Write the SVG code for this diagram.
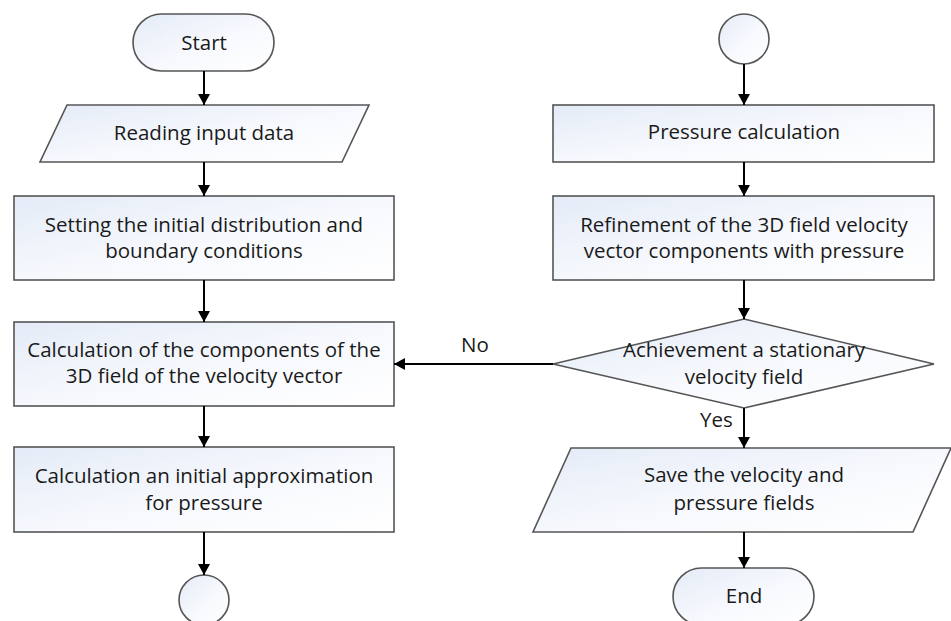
<svg xmlns="http://www.w3.org/2000/svg" width="951" height="621" viewBox="0 0 951 621">
  <defs>
    <linearGradient id="fillGrad" x1="0" y1="0" x2="1" y2="1">
      <stop offset="0" stop-color="#e4ebf7"/>
      <stop offset="0.55" stop-color="#f7f9fd"/>
      <stop offset="1" stop-color="#ffffff"/>
    </linearGradient>
    <marker id="arrow" markerWidth="12" markerHeight="12" refX="11" refY="6" orient="auto" markerUnits="userSpaceOnUse">
      <path d="M0,0 L11,6 L0,12 Z" fill="#000"/>
    </marker>
  </defs>
  <style>
    .shape { fill: url(#fillGrad); stroke: #555555; stroke-width: 1.6; }
    .label { font-family: "Open Sans", "Liberation Sans", Arial, sans-serif; font-size: 20.5px; fill: #1a1a1a; text-anchor: middle; }
    .edge { fill: none; stroke: #000; stroke-width: 2; marker-end: url(#arrow); }
    .tag { font-family: "Open Sans", "Liberation Sans", Arial, sans-serif; font-size: 20.5px; fill: #1a1a1a; }
  </style>
  <rect width="951" height="621" fill="#ffffff"/>

  <!-- left column -->
  <g id="start">
    <rect class="shape" x="133" y="14" width="141" height="57" rx="28.5"/>
    <text class="label" x="204" y="50">Start</text>
  </g>
  <g id="read-input">
    <polygon class="shape" points="67,105 369,105 342,162 40,162"/>
    <text class="label" x="204" y="140">Reading input data</text>
  </g>
  <g id="init-conditions">
    <rect class="shape" x="14" y="196" width="380" height="84"/>
    <text class="label" x="204" y="232">Setting the initial distribution and</text>
    <text class="label" x="204" y="258">boundary conditions</text>
  </g>
  <g id="velocity-components">
    <rect class="shape" x="14" y="322" width="380" height="84"/>
    <text class="label" x="204" y="357">Calculation of the components of the</text>
    <text class="label" x="204" y="383">3D field of the velocity vector</text>
  </g>
  <g id="initial-pressure">
    <rect class="shape" x="14" y="447" width="380" height="85"/>
    <text class="label" x="204" y="483">Calculation an initial approximation</text>
    <text class="label" x="204" y="510">for pressure</text>
  </g>
  <g id="connector-out">
    <circle class="shape" cx="204" cy="600" r="25"/>
  </g>

  <!-- right column -->
  <g id="connector-in">
    <circle class="shape" cx="744" cy="39" r="25"/>
  </g>
  <g id="pressure-calc">
    <rect class="shape" x="553" y="105" width="381" height="57"/>
    <text class="label" x="744" y="139">Pressure calculation</text>
  </g>
  <g id="refinement">
    <rect class="shape" x="553" y="196" width="381" height="84"/>
    <text class="label" x="744" y="232">Refinement of the 3D field velocity</text>
    <text class="label" x="744" y="258">vector components with pressure</text>
  </g>
  <g id="stationary-check">
    <polygon class="shape" points="744,319 934,364 744,408 553,364"/>
    <text class="label" x="744" y="357">Achievement a stationary</text>
    <text class="label" x="744" y="384">velocity field</text>
  </g>
  <g id="save-fields">
    <polygon class="shape" points="571,448 951,448 913,532 533,532"/>
    <text class="label" x="744" y="482">Save the velocity and</text>
    <text class="label" x="744" y="510">pressure fields</text>
  </g>
  <g id="end">
    <rect class="shape" x="673" y="568" width="141" height="57" rx="28.5"/>
    <text class="label" x="744" y="603">End</text>
  </g>

  <!-- connectors -->
  <g id="connectors">
    <line class="edge" x1="204" y1="71" x2="204" y2="105"/>
    <line class="edge" x1="204" y1="162" x2="204" y2="196"/>
    <line class="edge" x1="204" y1="280" x2="204" y2="322"/>
    <line class="edge" x1="204" y1="406" x2="204" y2="447"/>
    <line class="edge" x1="204" y1="532" x2="204" y2="575"/>
    <line class="edge" x1="744" y1="64" x2="744" y2="105"/>
    <line class="edge" x1="744" y1="162" x2="744" y2="196"/>
    <line class="edge" x1="744" y1="280" x2="744" y2="319"/>
    <line class="edge" x1="553" y1="364" x2="394" y2="364"/>
    <line class="edge" x1="744" y1="408" x2="744" y2="448"/>
    <line class="edge" x1="744" y1="532" x2="744" y2="568"/>
    <text class="tag" x="461" y="352">No</text>
    <text class="tag" x="700" y="427">Yes</text>
  </g>
</svg>
